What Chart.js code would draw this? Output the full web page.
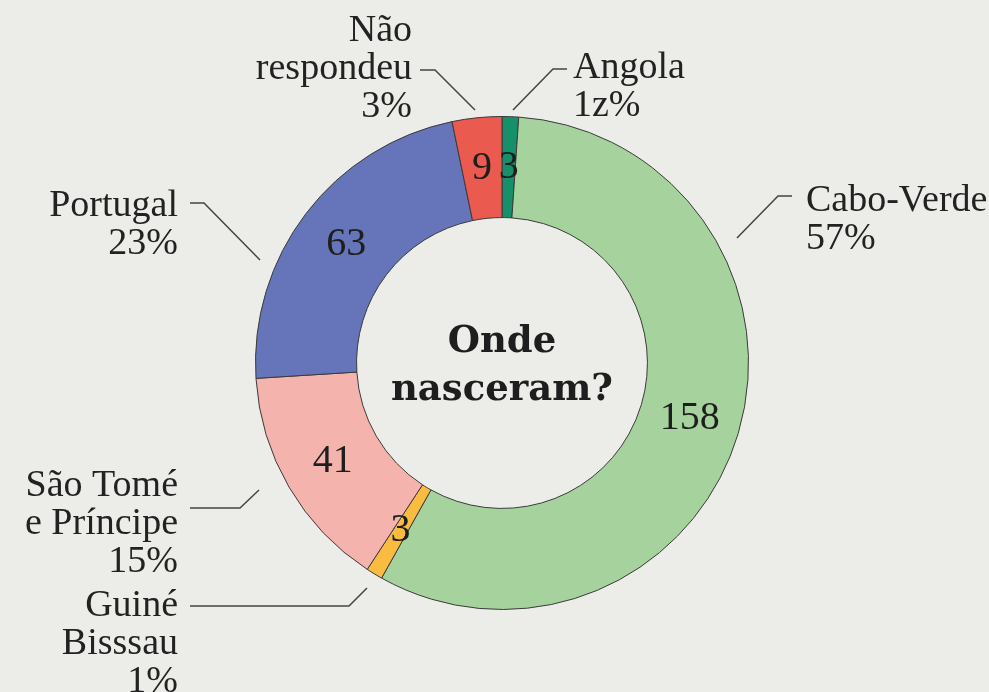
<!DOCTYPE html>
<html>
<head>
<meta charset="utf-8">
<script src="https://cdn.jsdelivr.net/npm/chart.js@4"></script>
<style>
  html, body { margin: 0; padding: 0; background: #ecede8; }
  canvas { display: block; }
</style>
</head>
<body>
<canvas id="grafico" width="989" height="692"></canvas>
<script>
// dados
const paises = ['Angola', 'Cabo-Verde', 'Guiné Bissau', 'São Tomé e Príncipe', 'Portugal', 'Não respondeu'];
const respostas = [3, 158, 3, 41, 63, 9];
const percentagens = ['1z%', '57%', '1%', '15%', '23%', '3%'];
const cores = ['#16906a', '#a6d39d', '#f9bb40', '#f5b3ae', '#6675b9', '#eb5a4e'];

// rótulos externos (texto partido em linhas, como no original)
const linhasRotulo = [
  ['Angola'],
  ['Cabo-Verde'],
  ['Guiné', 'Bisssau'],
  ['São Tomé', 'e Príncipe'],
  ['Portugal'],
  ['Não', 'respondeu']
];

const fonteSerif = '"Liberation Serif", "DejaVu Serif", serif';

// posição dos rótulos e linhas de chamada
const chamadas = [
  { x: 573, y: 68, align: 'left', linha: [[513, 110], [553, 69], [567, 69]] },
  { x: 806, y: 201, align: 'left', linha: [[737, 238], [778, 196], [792, 196]] },
  { x: 178, y: 606, align: 'right', linha: [[190, 606], [349, 606], [367, 588]] },
  { x: 178, y: 486, align: 'right', linha: [[190, 508], [240, 508], [259, 490]] },
  { x: 178, y: 206, align: 'right', linha: [[190, 203], [204, 203], [260, 260]] },
  { x: 412, y: 31, align: 'right', linha: [[420, 70], [435, 70], [475, 110]] }
];

const pluginRotulos = {
  id: 'rotulos',
  afterDraw(chart) {
    const ctx = chart.ctx;
    const meta = chart.getDatasetMeta(0);
    ctx.save();

    // valores dentro das fatias
    ctx.fillStyle = '#1e1e1e';
    ctx.font = '40px ' + fonteSerif;
    ctx.textAlign = 'center';
    ctx.textBaseline = 'middle';
    meta.data.forEach((arco, i) => {
      const p = arco.tooltipPosition();
      ctx.fillText(String(respostas[i]), p.x, p.y);
    });

    // título no centro
    const cx = meta.data[0].x;
    const cy = meta.data[0].y;
    ctx.font = 'bold 37px "DejaVu Serif", serif';
    ctx.fillText('Onde', cx, cy - 21);
    ctx.fillText('nasceram?', cx, cy + 27);

    // rótulos externos
    ctx.font = '38px ' + fonteSerif;
    ctx.fillStyle = '#222';
    chamadas.forEach((c, i) => {
      const linhas = linhasRotulo[i].concat([percentagens[i]]);
      ctx.textAlign = c.align;
      linhas.forEach((t, j) => {
        ctx.fillText(t, c.x, c.y + j * 38);
      });
      ctx.strokeStyle = '#444';
      ctx.lineWidth = 1.5;
      ctx.beginPath();
      c.linha.forEach((pt, k) => {
        if (k === 0) ctx.moveTo(pt[0], pt[1]);
        else ctx.lineTo(pt[0], pt[1]);
      });
      ctx.stroke();
    });

    ctx.restore();
  }
};

new Chart(document.getElementById('grafico'), {
  type: 'doughnut',
  data: {
    labels: paises,
    datasets: [{
      data: respostas,
      backgroundColor: cores,
      borderColor: '#3a3a3a',
      borderWidth: 1
    }]
  },
  options: {
    responsive: false,
    animation: false,
    cutout: '59%',
    layout: {
      padding: { left: 255, right: 240, top: 116, bottom: 82 }
    },
    plugins: {
      legend: { display: false },
      tooltip: { enabled: false }
    }
  },
  plugins: [pluginRotulos]
});
</script>
</body>
</html>
